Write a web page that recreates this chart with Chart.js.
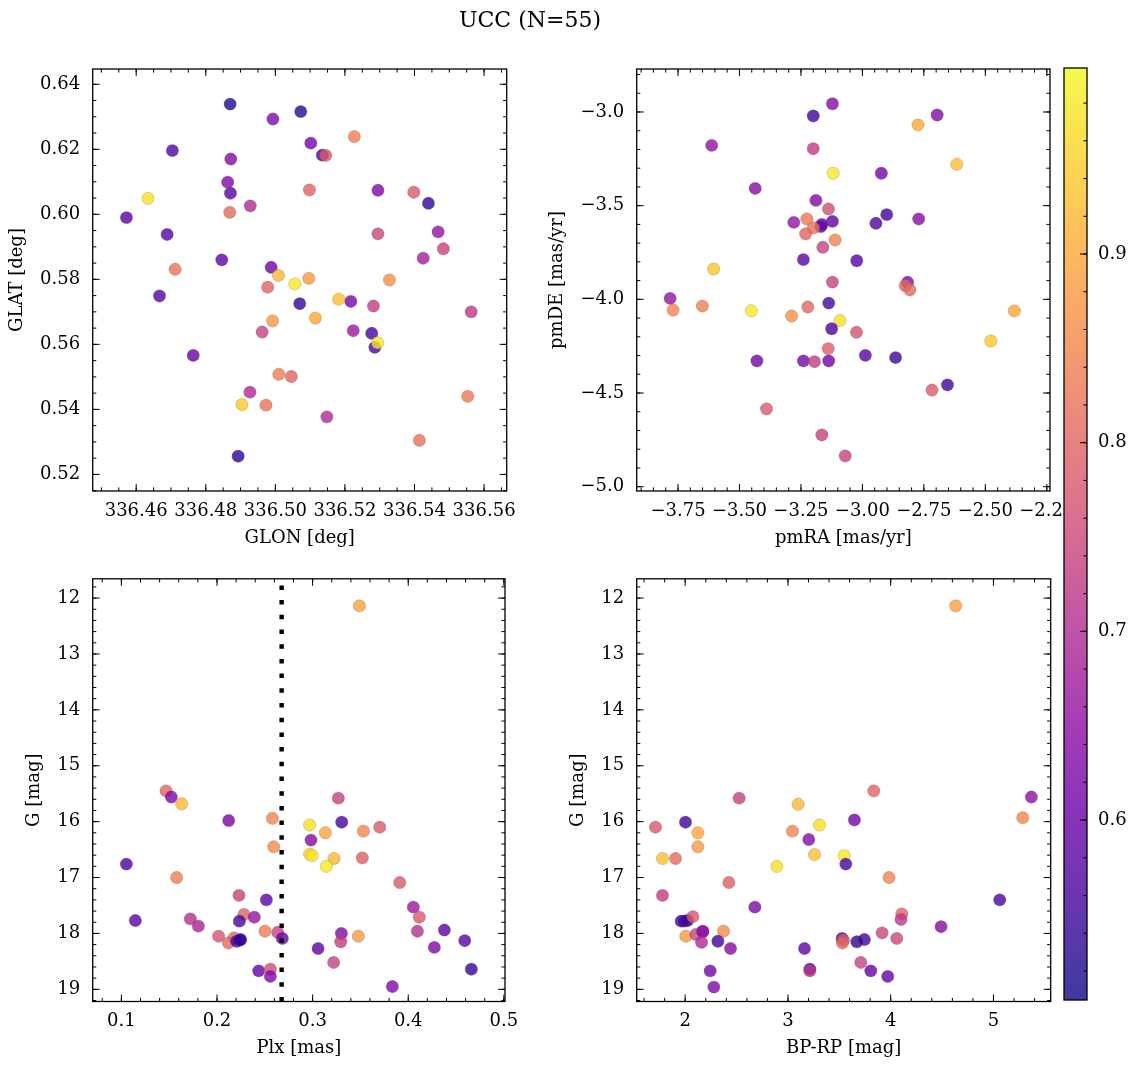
<!DOCTYPE html>
<html><head><meta charset="utf-8">
<script src="https://cdn.jsdelivr.net/npm/chart.js@4.4.1/dist/chart.umd.min.js"></script>
<style>
html,body{margin:0;padding:0;background:#fff;}
#wrap{position:relative;width:1136px;height:1068px;overflow:hidden;background:#fff;}
canvas{position:absolute;left:0;top:0;}
#suptitle{position:absolute;left:380px;width:300px;top:7px;line-height:26px;text-align:center;font-family:'DejaVu Serif',serif;font-size:22px;color:#000;}
</style></head><body>
<div id="wrap">
<canvas id="c1" width="1136" height="1068"></canvas>
<canvas id="c2" width="1136" height="1068"></canvas>
<canvas id="c3" width="1136" height="1068"></canvas>
<canvas id="c4" width="1136" height="1068"></canvas>
<canvas id="cb" width="1136" height="1068"></canvas>
<div id="suptitle">UCC (N=55)</div>
</div>
<script>
// ---------------- DATA ----------------
// Panel 1: sky positions
const glon = [336.4870,336.4993,336.5073,336.5227,336.5102,336.5135,336.5145,336.4704,336.4872,336.4863,
  336.4871,336.4634,336.5098,336.5295,336.5398,336.5440,336.4928,336.4869,336.4572,336.4689,
  336.5295,336.5468,336.5483,336.5425,336.4846,336.4988,336.5009,336.4712,336.5056,336.5096,
  336.5328,336.4978,336.4667,336.5182,336.5217,336.5282,336.5070,336.5563,336.4992,336.5115,
  336.4962,336.5224,336.5277,336.5286,336.5294,336.4764,336.5010,336.5046,336.4927,336.4904,
  336.4973,336.5553,336.5148,336.5414,336.4893];
const glat = [0.6339,0.6293,0.6316,0.6239,0.6219,0.6182,0.6181,0.6196,0.6170,0.6099,
  0.6065,0.6049,0.6075,0.6074,0.6068,0.6034,0.6026,0.6006,0.5990,0.5938,
  0.5940,0.5946,0.5894,0.5865,0.5860,0.5837,0.5812,0.5831,0.5786,0.5803,
  0.5798,0.5776,0.5749,0.5739,0.5732,0.5718,0.5725,0.5700,0.5672,0.5681,
  0.5638,0.5642,0.5634,0.5591,0.5605,0.5566,0.5508,0.5501,0.5453,0.5415,
  0.5413,0.5440,0.5377,0.5305,0.5256];
const probSky = [0.52,0.63,0.53,0.84,0.62,0.56,0.78,0.57,0.64,0.64,
  0.58,0.97,0.80,0.63,0.78,0.54,0.70,0.81,0.58,0.58,
  0.75,0.66,0.74,0.68,0.59,0.61,0.92,0.82,0.98,0.88,
  0.87,0.80,0.58,0.93,0.62,0.73,0.54,0.72,0.88,0.90,
  0.74,0.67,0.56,0.56,0.98,0.60,0.84,0.80,0.70,0.94,
  0.82,0.83,0.70,0.82,0.53];

// Panel 2: proper motions
const pmra = [-3.122,-3.200,-2.696,-2.774,-3.613,-3.200,-2.616,-3.119,-2.923,-3.436,
  -3.189,-3.138,-3.226,-3.279,-3.122,-3.169,-3.165,-3.199,-3.231,-3.111,
  -3.161,-2.945,-2.901,-2.771,-3.240,-3.023,-3.605,-3.122,-2.816,-2.826,
  -2.807,-3.782,-3.770,-3.651,-3.452,-3.288,-3.222,-3.137,-3.091,-3.125,
  -3.024,-3.139,-2.382,-2.478,-3.429,-3.240,-3.195,-3.137,-2.988,-2.865,
  -2.654,-2.717,-3.390,-3.165,-3.070];
const pmde = [-2.956,-3.021,-3.016,-3.069,-3.178,-3.196,-3.279,-3.327,-3.327,-3.408,
  -3.472,-3.518,-3.571,-3.589,-3.584,-3.612,-3.600,-3.619,-3.651,-3.683,
  -3.722,-3.594,-3.548,-3.571,-3.788,-3.794,-3.838,-3.908,-3.909,-3.927,
  -3.950,-3.995,-4.057,-4.036,-4.061,-4.089,-4.041,-4.020,-4.112,-4.157,
  -4.176,-4.263,-4.062,-4.222,-4.329,-4.329,-4.333,-4.329,-4.299,-4.311,
  -4.457,-4.484,-4.585,-4.724,-4.836];
const probPm = [0.64,0.55,0.64,0.90,0.66,0.73,0.93,0.98,0.62,0.64,
  0.63,0.76,0.83,0.66,0.59,0.59,0.60,0.82,0.80,0.85,
  0.74,0.57,0.55,0.64,0.58,0.58,0.94,0.74,0.63,0.80,
  0.81,0.66,0.85,0.84,0.98,0.87,0.80,0.55,0.97,0.56,
  0.77,0.79,0.90,0.94,0.62,0.62,0.73,0.61,0.58,0.55,
  0.55,0.78,0.78,0.74,0.74];

// Panel 3: parallax vs G
const plx = [0.3489,0.1467,0.1522,0.1630,0.2122,0.2579,0.3269,0.2969,0.3304,0.3133,
  0.3531,0.3702,0.2983,0.2593,0.2969,0.2997,0.3224,0.3144,0.3520,0.1052,
  0.1578,0.3911,0.2230,0.2516,0.4054,0.4116,0.1146,0.1721,0.1805,0.2282,
  0.2234,0.2390,0.4096,0.4378,0.2017,0.2178,0.2119,0.2248,0.2206,0.2240,
  0.2502,0.2635,0.2683,0.3301,0.3294,0.3478,0.3057,0.4591,0.4273,0.3220,
  0.2436,0.2558,0.2558,0.4660,0.3834];
const gPlx = [12.14,15.45,15.56,15.68,15.98,15.94,15.58,16.06,16.01,16.20,
  16.17,16.10,16.33,16.45,16.58,16.61,16.66,16.80,16.65,16.76,
  17.00,17.09,17.32,17.40,17.53,17.71,17.77,17.74,17.87,17.66,
  17.78,17.71,17.96,17.94,18.05,18.08,18.17,18.11,18.14,18.12,
  17.96,17.98,18.09,18.00,18.15,18.05,18.27,18.13,18.25,18.52,
  18.67,18.64,18.77,18.64,18.95];
const probPlx = [0.89,0.80,0.63,0.92,0.62,0.85,0.74,0.97,0.56,0.90,
  0.85,0.78,0.64,0.86,0.95,0.98,0.92,0.98,0.79,0.57,
  0.84,0.78,0.74,0.59,0.67,0.78,0.59,0.71,0.69,0.80,
  0.56,0.66,0.71,0.59,0.77,0.80,0.81,0.53,0.56,0.54,
  0.84,0.74,0.60,0.63,0.73,0.88,0.59,0.58,0.63,0.74,
  0.60,0.76,0.63,0.54,0.63];
const plxLine = [0.2676];

// Panel 4: colour-magnitude
const bprp = [4.633,3.835,5.369,2.525,3.099,2.003,3.647,5.285,1.711,3.307,
  2.123,3.044,3.203,2.123,1.779,1.906,3.258,3.547,3.563,2.892,
  3.984,2.425,1.779,5.061,2.678,1.961,2.023,1.990,2.075,4.108,
  4.100,4.490,2.006,2.104,2.172,2.170,2.159,2.373,2.318,2.441,
  3.916,4.059,3.527,3.540,3.530,3.670,3.744,3.161,3.709,3.213,
  3.213,3.806,3.971,2.243,2.279];
const gCmd = [12.14,15.45,15.56,15.58,15.69,16.01,15.97,15.93,16.10,16.06,
  16.20,16.17,16.32,16.45,16.66,16.66,16.59,16.61,16.76,16.80,
  17.00,17.09,17.32,17.40,17.53,17.78,17.77,17.78,17.70,17.65,
  17.75,17.88,18.05,18.02,17.96,17.97,18.16,17.96,18.14,18.27,
  17.99,18.09,18.09,18.12,18.17,18.15,18.11,18.27,18.52,18.64,
  18.67,18.67,18.77,18.67,18.96];
const probCmd = [0.89,0.80,0.65,0.74,0.92,0.55,0.62,0.85,0.78,0.97,
  0.90,0.85,0.64,0.88,0.93,0.81,0.93,0.98,0.56,0.97,
  0.85,0.79,0.73,0.57,0.63,0.55,0.53,0.56,0.78,0.80,
  0.72,0.64,0.88,0.74,0.63,0.66,0.70,0.86,0.55,0.64,
  0.75,0.75,0.56,0.79,0.80,0.54,0.55,0.59,0.74,0.55,
  0.72,0.60,0.60,0.62,0.63];

// Axis ranges and tick labels
const glonRange = [336.4475, 336.5665], glatRange = [0.5149, 0.6447];
const glonTicks = [336.46,336.48,336.50,336.52,336.54,336.56];
const glonTickLabels = ['336.46','336.48','336.50','336.52','336.54','336.56'];
const glatTicks = [0.52,0.54,0.56,0.58,0.60,0.62,0.64];
const glatTickLabels = ['0.52','0.54','0.56','0.58','0.60','0.62','0.64'];
const pmraRange = [-3.918, -2.237], pmdeRange = [-5.023, -2.7705];
const pmraTicks = [-3.75,-3.50,-3.25,-3.00,-2.75,-2.50,-2.25];
const pmraTickLabels = ['\u22123.75','\u22123.50','\u22123.25','\u22123.00','\u22122.75','\u22122.50','\u22122.25'];
const pmdeTicks = [-5.0,-4.5,-4.0,-3.5,-3.0];
const pmdeTickLabels = ['\u22125.0','\u22124.5','\u22124.0','\u22123.5','\u22123.0'];
const plxRange = [0.0700, 0.5012], gRange = [11.655, 19.218];
const plxTicks = [0.1,0.2,0.3,0.4,0.5];
const plxTickLabels = ['0.1','0.2','0.3','0.4','0.5'];
const gTicks = [12,13,14,15,16,17,18,19];
const gTickLabels = ['12','13','14','15','16','17','18','19'];
const bprpRange = [1.528, 5.557];
const bprpTicks = [2,3,4,5];
const bprpTickLabels = ['2','3','4','5'];
const probRange = [0.5046, 0.9986];
const probTicks = [0.6,0.7,0.8,0.9];
const probTickLabels = ['0.6','0.7','0.8','0.9'];

// ---------------- STYLE ----------------
const FONT = "'DejaVu Serif', serif";
const FS = 18;
const PLASMA = ['#0d0887','#41049d','#6a00a8','#8f0da4','#b12a90','#cc4778','#e16462','#f2844b','#fca636','#fcce25','#f0f921'];
const ALPHA = 0.8;
const plasmaRGB = PLASMA.map(h => [parseInt(h.slice(1,3),16), parseInt(h.slice(3,5),16), parseInt(h.slice(5,7),16)]);
function cmap(p, a) {
  let t = (p - probRange[0]) / (probRange[1] - probRange[0]);
  t = Math.max(0, Math.min(1, t));
  const f = t * (plasmaRGB.length - 1);
  const i = Math.min(Math.floor(f), plasmaRGB.length - 2);
  const u = f - i;
  const c = plasmaRGB[i].map((v, k) => Math.round(v + (plasmaRGB[i+1][k] - v) * u));
  return `rgba(${c[0]},${c[1]},${c[2]},${a})`;
}

function rangeSteps(min, max, step) {
  const out = [];
  let k = Math.ceil(min / step - 1e-9);
  while (k * step <= max + 1e-9) { out.push(k * step); k++; }
  return out;
}

const MAJ = 7, MIN = 3.6;
const frameTicks = {
  id: 'frameTicks',
  afterDatasetsDraw(chart, args, o) {
    if (!o || !o.on) return;
    const {ctx, chartArea: a, scales} = chart;
    ctx.save();
    // reference line(s)
    if (o.vlines) {
      ctx.strokeStyle = '#000'; ctx.lineWidth = 4.4; ctx.setLineDash([4.5, 10.2]); ctx.lineCap = 'butt';
      for (const v of o.vlines) {
        const p = scales.x.getPixelForValue(v);
        ctx.beginPath(); ctx.moveTo(p, a.bottom); ctx.lineTo(p, a.top); ctx.stroke();
      }
      ctx.setLineDash([]);
    }
    ctx.strokeStyle = '#000'; ctx.lineWidth = 1;
    ctx.beginPath();
    const xs = scales.x, ys = scales.y;
    if (o.x) {
      const draw = (v, len) => {
        const p = xs.getPixelForValue(v);
        ctx.moveTo(p, a.bottom); ctx.lineTo(p, a.bottom - len);
        ctx.moveTo(p, a.top); ctx.lineTo(p, a.top + len);
      };
      rangeSteps(xs.min, xs.max, o.x.minor).forEach(v => draw(v, MIN));
      o.x.major.forEach(v => draw(v, MAJ));
    }
    if (o.y) {
      const draw = (v, len) => {
        const p = ys.getPixelForValue(v);
        if (o.y.left !== false) { ctx.moveTo(a.left, p); ctx.lineTo(a.left + len, p); }
        ctx.moveTo(a.right, p); ctx.lineTo(a.right - len, p);
      };
      rangeSteps(ys.min, ys.max, o.y.minor).forEach(v => draw(v, MIN));
      o.y.major.forEach(v => draw(v, MAJ));
    }
    ctx.stroke();
    ctx.lineWidth = 1.3;
    ctx.strokeRect(a.left, a.top, a.right - a.left, a.bottom - a.top);
    ctx.restore();
  }
};

const colorbarFill = {
  id: 'colorbarFill',
  beforeDatasetsDraw(chart, args, o) {
    if (!o || !o.on) return;
    const {ctx, chartArea: a, scales} = chart;
    ctx.save();
    ctx.fillStyle = '#fff';
    ctx.fillRect(a.left - 1, a.top, a.right - a.left + 2, a.bottom - a.top);
    for (let y = Math.floor(a.top); y < a.bottom; y++) {
      const v = scales.y.getValueForPixel(y + 0.5);
      ctx.fillStyle = cmap(v, ALPHA);
      ctx.fillRect(a.left, y, a.right - a.left, 1);
    }
    ctx.restore();
  }
};

function scaleOpts(rng, ticks, labels, fitSize, horizontal, title, pad, extra) {
  return Object.assign({
    type: 'linear', min: rng[0], max: rng[1],
    grid: {display: false, drawTicks: false},
    border: {display: false},
    afterBuildTicks: s => { s.ticks = ticks.map(v => ({value: v})); },
    afterFit: s => { if (horizontal) s.height = fitSize; else s.width = fitSize; },
    ticks: {
      autoSkip: false, maxRotation: 0, minRotation: 0, padding: pad, color: '#000',
      font: {family: FONT, size: FS},
      callback: (v, i) => labels[i]
    },
    title: title ? {display: true, text: title, color: '#000', padding: 0, font: {family: FONT, size: FS}} : {display: false}
  }, extra || {});
}

function makePanel(id, xs, ys, probs, cfg) {
  const pts = xs.map((x, i) => ({x: x, y: ys[i]}));
  return new Chart(document.getElementById(id), {
    type: 'scatter',
    data: {datasets: [{
      data: pts,
      pointRadius: 6.2,
      pointHoverRadius: 6.2,
      pointBackgroundColor: probs.map(p => cmap(p, ALPHA)),
      pointBorderColor: 'rgba(90,90,90,0.45)',
      pointBorderWidth: 0.5
    }]},
    options: {
      responsive: false, animation: false, devicePixelRatio: 1, events: [],
      layout: {padding: cfg.padding},
      plugins: {legend: {display: false}, tooltip: {enabled: false},
        frameTicks: {on: true, x: cfg.xt, y: cfg.yt, vlines: cfg.vlines}},
      scales: {x: cfg.x, y: cfg.y}
    },
    plugins: [frameTicks]
  });
}

// Panel 1
makePanel('c1', glon, glat, probSky, {
  padding: {left: 6.7, top: 69, right: 1136 - 506.7, bottom: 519.2},
  x: scaleOpts(glonRange, glonTicks, glonTickLabels, 57.8, true, 'GLON [deg]', 9.2),
  y: scaleOpts(glatRange, glatTicks, glatTickLabels, 86, false, 'GLAT [deg]', 12.5),
  xt: {major: glonTicks, minor: 0.005}, yt: {major: glatTicks, minor: 0.005}
});
// Panel 2
makePanel('c2', pmra, pmde, probPm, {
  padding: {left: 546.2, top: 69, right: 1136 - 1050, bottom: 519.2},
  x: scaleOpts(pmraRange, pmraTicks, pmraTickLabels, 57.8, true, 'pmRA [mas/yr]', 9.2),
  y: scaleOpts(pmdeRange, pmdeTicks, pmdeTickLabels, 636.7 - 546.2, false, 'pmDE [mas/yr]', 12.5),
  xt: {major: pmraTicks, minor: 0.05}, yt: {major: pmdeTicks, minor: 0.1}
});
// Panel 3
makePanel('c3', plx, gPlx, probPlx, {
  padding: {left: 23.7, top: 578.8, right: 1136 - 505, bottom: 9.2},
  x: scaleOpts(plxRange, plxTicks, plxTickLabels, 1058.8 - 1001.5, true, 'Plx [mas]', 9.2),
  y: scaleOpts(gRange, gTicks, gTickLabels, 92.7 - 23.7, false, 'G [mag]', 12.5, {reverse: true}),
  xt: {major: plxTicks, minor: 0.02}, yt: {major: gTicks, minor: 0.2},
  vlines: plxLine
});
// Panel 4
makePanel('c4', bprp, gCmd, probCmd, {
  padding: {left: 567.7, top: 578.8, right: 1136 - 1050.7, bottom: 9.2},
  x: scaleOpts(bprpRange, bprpTicks, bprpTickLabels, 1058.8 - 1001.5, true, 'BP-RP [mag]', 9.2),
  y: scaleOpts(gRange, gTicks, gTickLabels, 636.7 - 567.7, false, 'G [mag]', 12.5, {reverse: true}),
  xt: {major: bprpTicks, minor: 0.2}, yt: {major: gTicks, minor: 0.2}
});
// Colorbar
new Chart(document.getElementById('cb'), {
  type: 'scatter',
  data: {datasets: [{data: []}]},
  options: {
    responsive: false, animation: false, devicePixelRatio: 1, events: [],
    layout: {padding: {left: 1064, top: 68, right: 1136 - 1087 - 45, bottom: 68}},
    plugins: {legend: {display: false}, tooltip: {enabled: false},
      colorbarFill: {on: true},
      frameTicks: {on: true, y: {major: probTicks, minor: 0.02, left: false}}},
    scales: {
      x: {type: 'linear', display: false, min: 0, max: 1},
      y: scaleOpts(probRange, probTicks, probTickLabels, 45, false, null, 11, {position: 'right'})
    }
  },
  plugins: [colorbarFill, frameTicks]
});
</script>
</body></html>
